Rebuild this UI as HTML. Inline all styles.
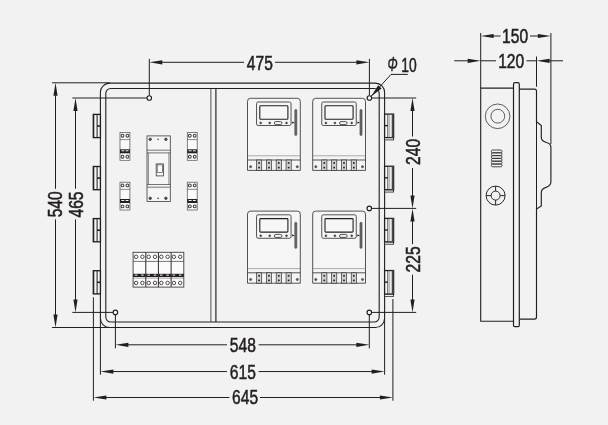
<!DOCTYPE html>
<html><head><meta charset="utf-8"><title>Dimension drawing</title>
<style>
html,body{margin:0;padding:0;background:#f2f2f2;}
svg{display:block;}
text{font-family:"Liberation Sans",sans-serif;fill:#231f20;stroke:#231f20;stroke-width:0.5px;vector-effect:non-scaling-stroke;}
</style></head><body>
<svg width="608" height="425" viewBox="0 0 608 425" style="will-change:transform">
<rect x="0" y="0" width="608" height="425" fill="#f2f2f2"/>
<rect x="100.40" y="83.10" width="284.20" height="244.40" rx="9.2" fill="#f2f2f2" stroke="#231f20" stroke-width="1.1"/>
<rect x="105.80" y="88.45" width="273.40" height="233.55" rx="5.0" fill="#f2f2f2" stroke="#231f20" stroke-width="1.1"/>
<line x1="210.9" y1="88.45" x2="210.9" y2="322.0" stroke="#231f20" stroke-width="0.75" />
<line x1="215.9" y1="88.45" x2="215.9" y2="322.0" stroke="#231f20" stroke-width="1.15" />
<rect x="93.30" y="114.40" width="7.10" height="23.20" rx="0" fill="#f7f7f7" stroke="#231f20" stroke-width="1.35"/>
<line x1="93.8" y1="114.4" x2="93.8" y2="137.6" stroke="#231f20" stroke-width="1.0" />
<line x1="97.1" y1="114.4" x2="97.1" y2="137.6" stroke="#231f20" stroke-width="1.05" />
<line x1="97.1" y1="126.0" x2="100.4" y2="126.0" stroke="#231f20" stroke-width="1.6" />
<rect x="384.60" y="137.60" width="9.00" height="2.30" rx="0" fill="#fbfbfb" stroke="#231f20" stroke-width="0.8"/>
<rect x="384.60" y="114.10" width="9.00" height="23.50" rx="0" fill="#fbfbfb" stroke="#231f20" stroke-width="1.3"/>
<rect x="391.7" y="114.10" width="1.9" height="23.5" fill="#4a4647"/>
<line x1="387.8" y1="114.1" x2="387.8" y2="137.6" stroke="#231f20" stroke-width="0.8" />
<line x1="389.7" y1="114.1" x2="389.7" y2="137.6" stroke="#777" stroke-width="0.6" />
<line x1="384.6" y1="125.64999999999999" x2="387.8" y2="125.64999999999999" stroke="#231f20" stroke-width="1.4" />
<rect x="93.30" y="166.50" width="7.10" height="23.20" rx="0" fill="#f7f7f7" stroke="#231f20" stroke-width="1.35"/>
<line x1="93.8" y1="166.5" x2="93.8" y2="189.7" stroke="#231f20" stroke-width="1.0" />
<line x1="97.1" y1="166.5" x2="97.1" y2="189.7" stroke="#231f20" stroke-width="1.05" />
<line x1="97.1" y1="178.1" x2="100.4" y2="178.1" stroke="#231f20" stroke-width="1.6" />
<rect x="384.60" y="189.75" width="9.00" height="2.30" rx="0" fill="#fbfbfb" stroke="#231f20" stroke-width="0.8"/>
<rect x="384.60" y="166.25" width="9.00" height="23.50" rx="0" fill="#fbfbfb" stroke="#231f20" stroke-width="1.3"/>
<rect x="391.7" y="166.25" width="1.9" height="23.5" fill="#4a4647"/>
<line x1="387.8" y1="166.25" x2="387.8" y2="189.75" stroke="#231f20" stroke-width="0.8" />
<line x1="389.7" y1="166.25" x2="389.7" y2="189.75" stroke="#777" stroke-width="0.6" />
<line x1="384.6" y1="177.8" x2="387.8" y2="177.8" stroke="#231f20" stroke-width="1.4" />
<rect x="93.30" y="218.60" width="7.10" height="23.20" rx="0" fill="#f7f7f7" stroke="#231f20" stroke-width="1.35"/>
<line x1="93.8" y1="218.60000000000002" x2="93.8" y2="241.8" stroke="#231f20" stroke-width="1.0" />
<line x1="97.1" y1="218.60000000000002" x2="97.1" y2="241.8" stroke="#231f20" stroke-width="1.05" />
<line x1="97.1" y1="230.20000000000002" x2="100.4" y2="230.20000000000002" stroke="#231f20" stroke-width="1.6" />
<rect x="384.60" y="241.90" width="9.00" height="2.30" rx="0" fill="#fbfbfb" stroke="#231f20" stroke-width="0.8"/>
<rect x="384.60" y="218.40" width="9.00" height="23.50" rx="0" fill="#fbfbfb" stroke="#231f20" stroke-width="1.3"/>
<rect x="391.7" y="218.40" width="1.9" height="23.5" fill="#4a4647"/>
<line x1="387.8" y1="218.39999999999998" x2="387.8" y2="241.89999999999998" stroke="#231f20" stroke-width="0.8" />
<line x1="389.7" y1="218.39999999999998" x2="389.7" y2="241.89999999999998" stroke="#777" stroke-width="0.6" />
<line x1="384.6" y1="229.95" x2="387.8" y2="229.95" stroke="#231f20" stroke-width="1.4" />
<rect x="93.30" y="270.70" width="7.10" height="23.20" rx="0" fill="#f7f7f7" stroke="#231f20" stroke-width="1.35"/>
<line x1="93.8" y1="270.70000000000005" x2="93.8" y2="293.90000000000003" stroke="#231f20" stroke-width="1.0" />
<line x1="97.1" y1="270.70000000000005" x2="97.1" y2="293.90000000000003" stroke="#231f20" stroke-width="1.05" />
<line x1="97.1" y1="282.30000000000007" x2="100.4" y2="282.30000000000007" stroke="#231f20" stroke-width="1.6" />
<rect x="384.60" y="294.05" width="9.00" height="2.30" rx="0" fill="#fbfbfb" stroke="#231f20" stroke-width="0.8"/>
<rect x="384.60" y="270.55" width="9.00" height="23.50" rx="0" fill="#fbfbfb" stroke="#231f20" stroke-width="1.3"/>
<rect x="391.7" y="270.55" width="1.9" height="23.5" fill="#4a4647"/>
<line x1="387.8" y1="270.54999999999995" x2="387.8" y2="294.04999999999995" stroke="#231f20" stroke-width="0.8" />
<line x1="389.7" y1="270.54999999999995" x2="389.7" y2="294.04999999999995" stroke="#777" stroke-width="0.6" />
<line x1="384.6" y1="282.09999999999997" x2="387.8" y2="282.09999999999997" stroke="#231f20" stroke-width="1.4" />
<line x1="149.3" y1="58.9" x2="149.3" y2="95.6" stroke="#231f20" stroke-width="1.0" />
<line x1="369.4" y1="58.9" x2="369.4" y2="95.6" stroke="#231f20" stroke-width="1.0" />
<polygon points="149.30,62.30 162.30,60.20 162.30,64.40" fill="#231f20"/>
<polygon points="369.40,62.30 356.40,60.20 356.40,64.40" fill="#231f20"/>
<line x1="161.8" y1="62.3" x2="244" y2="62.3" stroke="#231f20" stroke-width="1.0" />
<line x1="275" y1="62.3" x2="356.9" y2="62.3" stroke="#231f20" stroke-width="1.0" />
<text transform="translate(259.80,69.50) scale(0.758,1)" text-anchor="middle" font-size="20.6">475</text>
<circle cx="149.30" cy="98.00" r="2.25" fill="#fafafa" stroke="#231f20" stroke-width="1.15"/>
<circle cx="369.40" cy="98.00" r="2.25" fill="#fafafa" stroke="#231f20" stroke-width="1.15"/>
<circle cx="369.30" cy="208.40" r="2.25" fill="#fafafa" stroke="#231f20" stroke-width="1.15"/>
<circle cx="115.40" cy="312.40" r="2.25" fill="#fafafa" stroke="#231f20" stroke-width="1.15"/>
<circle cx="369.30" cy="312.40" r="2.25" fill="#fafafa" stroke="#231f20" stroke-width="1.15"/>
<line x1="52" y1="82.8" x2="110" y2="82.8" stroke="#231f20" stroke-width="1.0" />
<line x1="52" y1="327.5" x2="110" y2="327.5" stroke="#231f20" stroke-width="1.0" />
<polygon points="55.50,82.80 53.40,95.80 57.60,95.80" fill="#231f20"/>
<polygon points="55.50,327.50 53.40,314.50 57.60,314.50" fill="#231f20"/>
<line x1="55.5" y1="95.3" x2="55.5" y2="188.8" stroke="#231f20" stroke-width="1.0" />
<line x1="55.5" y1="219.4" x2="55.5" y2="315.0" stroke="#231f20" stroke-width="1.0" />
<text transform="translate(61.70,204.30) rotate(-90) scale(0.758,1)" text-anchor="middle" font-size="20.6">540</text>
<line x1="72.3" y1="98" x2="146.9" y2="98" stroke="#231f20" stroke-width="1.0" />
<line x1="72.3" y1="312.4" x2="113.0" y2="312.4" stroke="#231f20" stroke-width="1.0" />
<polygon points="75.50,98.00 73.40,111.00 77.60,111.00" fill="#231f20"/>
<polygon points="75.50,312.40 73.40,299.40 77.60,299.40" fill="#231f20"/>
<line x1="75.5" y1="110.5" x2="75.5" y2="188.8" stroke="#231f20" stroke-width="1.0" />
<line x1="75.5" y1="219.4" x2="75.5" y2="299.9" stroke="#231f20" stroke-width="1.0" />
<text transform="translate(82.90,204.50) rotate(-90) scale(0.758,1)" text-anchor="middle" font-size="20.6">465</text>
<line x1="371.8" y1="98" x2="416.2" y2="98" stroke="#231f20" stroke-width="1.0" />
<line x1="371.7" y1="208.4" x2="416.2" y2="208.4" stroke="#231f20" stroke-width="1.0" />
<line x1="371.7" y1="312.4" x2="416.2" y2="312.4" stroke="#231f20" stroke-width="1.0" />
<polygon points="412.50,98.00 410.40,111.00 414.60,111.00" fill="#231f20"/>
<polygon points="412.50,208.40 410.40,195.40 414.60,195.40" fill="#231f20"/>
<line x1="412.5" y1="110.5" x2="412.5" y2="136.5" stroke="#231f20" stroke-width="1.0" />
<line x1="412.5" y1="168" x2="412.5" y2="195.9" stroke="#231f20" stroke-width="1.0" />
<polygon points="412.50,208.40 410.40,221.40 414.60,221.40" fill="#231f20"/>
<polygon points="412.50,312.40 410.40,299.40 414.60,299.40" fill="#231f20"/>
<line x1="412.5" y1="220.9" x2="412.5" y2="244.2" stroke="#231f20" stroke-width="1.0" />
<line x1="412.5" y1="274.7" x2="412.5" y2="299.9" stroke="#231f20" stroke-width="1.0" />
<text transform="translate(420.30,151.90) rotate(-90) scale(0.758,1)" text-anchor="middle" font-size="20.6">240</text>
<text transform="translate(420.10,259.40) rotate(-90) scale(0.758,1)" text-anchor="middle" font-size="20.6">225</text>
<line x1="115.4" y1="314.8" x2="115.4" y2="348.4" stroke="#231f20" stroke-width="1.0" />
<line x1="369.3" y1="314.8" x2="369.3" y2="348.4" stroke="#231f20" stroke-width="1.0" />
<polygon points="115.40,344.80 128.40,342.70 128.40,346.90" fill="#231f20"/>
<polygon points="369.30,344.80 356.30,342.70 356.30,346.90" fill="#231f20"/>
<line x1="127.9" y1="344.8" x2="227" y2="344.8" stroke="#231f20" stroke-width="1.0" />
<line x1="258.6" y1="344.8" x2="356.8" y2="344.8" stroke="#231f20" stroke-width="1.0" />
<text transform="translate(242.80,351.80) scale(0.758,1)" text-anchor="middle" font-size="20.6">548</text>
<line x1="100.4" y1="318" x2="100.4" y2="374.7" stroke="#231f20" stroke-width="1.0" />
<line x1="384.6" y1="318" x2="384.6" y2="374.7" stroke="#231f20" stroke-width="1.0" />
<polygon points="100.40,371.55 113.40,369.45 113.40,373.65" fill="#231f20"/>
<polygon points="384.60,371.55 371.60,369.45 371.60,373.65" fill="#231f20"/>
<line x1="112.9" y1="371.55" x2="227" y2="371.55" stroke="#231f20" stroke-width="1.0" />
<line x1="258.6" y1="371.55" x2="372.1" y2="371.55" stroke="#231f20" stroke-width="1.0" />
<text transform="translate(242.80,378.90) scale(0.758,1)" text-anchor="middle" font-size="20.6">615</text>
<line x1="93.4" y1="297.3" x2="93.4" y2="400.7" stroke="#231f20" stroke-width="1.0" />
<line x1="392.9" y1="299.0" x2="392.9" y2="400.7" stroke="#231f20" stroke-width="1.0" />
<polygon points="93.40,397.50 106.40,395.40 106.40,399.60" fill="#231f20"/>
<polygon points="392.90,397.50 379.90,395.40 379.90,399.60" fill="#231f20"/>
<line x1="105.9" y1="397.5" x2="229.4" y2="397.5" stroke="#231f20" stroke-width="1.0" />
<line x1="260" y1="397.5" x2="380.4" y2="397.5" stroke="#231f20" stroke-width="1.0" />
<text transform="translate(245.10,404.40) scale(0.758,1)" text-anchor="middle" font-size="20.6">645</text>
<polyline points="371.2,96.2 391,74.4 407.8,74.4" fill="none" stroke="#231f20" stroke-width="1.0"/>
<polygon points="371.0,96.5 378.2,85.3 381.6,88.4" fill="#231f20"/>
<text transform="translate(387.5,72.3) scale(0.725,1)" text-anchor="start" font-size="20.6"><tspan font-style="italic" dy="-1.4" textLength="14.0" lengthAdjust="spacingAndGlyphs">Φ</tspan><tspan dy="1.4" dx="4.9" textLength="21.3" lengthAdjust="spacingAndGlyphs">10</tspan></text>
<rect x="120.00" y="132.50" width="9.90" height="27.80" rx="0" fill="#fbfbfb" stroke="#5a5657" stroke-width="0.75"/>
<line x1="120.0" y1="139.6" x2="129.9" y2="139.6" stroke="#5a5657" stroke-width="0.7" />
<rect x="120.00" y="149.30" width="9.9" height="4.0" fill="#231f20"/>
<rect x="121.40" y="150.30" width="2.9" height="1.0" fill="#f4f4f4"/>
<rect x="125.60" y="150.30" width="2.9" height="1.0" fill="#f4f4f4"/>
<circle cx="122.50" cy="135.70" r="1.4" fill="#fff" stroke="#3f3b3c" stroke-width="1.05"/>
<circle cx="122.50" cy="156.70" r="1.4" fill="#fff" stroke="#3f3b3c" stroke-width="1.05"/>
<circle cx="127.40" cy="135.70" r="1.4" fill="#fff" stroke="#3f3b3c" stroke-width="1.05"/>
<circle cx="127.40" cy="156.70" r="1.4" fill="#fff" stroke="#3f3b3c" stroke-width="1.05"/>
<rect x="187.30" y="132.50" width="9.90" height="27.80" rx="0" fill="#fbfbfb" stroke="#5a5657" stroke-width="0.75"/>
<line x1="187.3" y1="139.6" x2="197.20000000000002" y2="139.6" stroke="#5a5657" stroke-width="0.7" />
<rect x="187.30" y="149.30" width="9.9" height="4.0" fill="#231f20"/>
<rect x="188.70" y="150.30" width="2.9" height="1.0" fill="#f4f4f4"/>
<rect x="192.90" y="150.30" width="2.9" height="1.0" fill="#f4f4f4"/>
<circle cx="189.80" cy="135.70" r="1.4" fill="#fff" stroke="#3f3b3c" stroke-width="1.05"/>
<circle cx="189.80" cy="156.70" r="1.4" fill="#fff" stroke="#3f3b3c" stroke-width="1.05"/>
<circle cx="194.70" cy="135.70" r="1.4" fill="#fff" stroke="#3f3b3c" stroke-width="1.05"/>
<circle cx="194.70" cy="156.70" r="1.4" fill="#fff" stroke="#3f3b3c" stroke-width="1.05"/>
<rect x="120.00" y="182.20" width="9.90" height="27.80" rx="0" fill="#fbfbfb" stroke="#5a5657" stroke-width="0.75"/>
<line x1="120.0" y1="189.29999999999998" x2="129.9" y2="189.29999999999998" stroke="#5a5657" stroke-width="0.7" />
<rect x="120.00" y="199.00" width="9.9" height="4.0" fill="#231f20"/>
<rect x="121.40" y="200.00" width="2.9" height="1.0" fill="#f4f4f4"/>
<rect x="125.60" y="200.00" width="2.9" height="1.0" fill="#f4f4f4"/>
<circle cx="122.50" cy="185.40" r="1.4" fill="#fff" stroke="#3f3b3c" stroke-width="1.05"/>
<circle cx="122.50" cy="206.40" r="1.4" fill="#fff" stroke="#3f3b3c" stroke-width="1.05"/>
<circle cx="127.40" cy="185.40" r="1.4" fill="#fff" stroke="#3f3b3c" stroke-width="1.05"/>
<circle cx="127.40" cy="206.40" r="1.4" fill="#fff" stroke="#3f3b3c" stroke-width="1.05"/>
<rect x="187.30" y="182.20" width="9.90" height="27.80" rx="0" fill="#fbfbfb" stroke="#5a5657" stroke-width="0.75"/>
<line x1="187.3" y1="189.29999999999998" x2="197.20000000000002" y2="189.29999999999998" stroke="#5a5657" stroke-width="0.7" />
<rect x="187.30" y="199.00" width="9.9" height="4.0" fill="#231f20"/>
<rect x="188.70" y="200.00" width="2.9" height="1.0" fill="#f4f4f4"/>
<rect x="192.90" y="200.00" width="2.9" height="1.0" fill="#f4f4f4"/>
<circle cx="189.80" cy="185.40" r="1.4" fill="#fff" stroke="#3f3b3c" stroke-width="1.05"/>
<circle cx="189.80" cy="206.40" r="1.4" fill="#fff" stroke="#3f3b3c" stroke-width="1.05"/>
<circle cx="194.70" cy="185.40" r="1.4" fill="#fff" stroke="#3f3b3c" stroke-width="1.05"/>
<circle cx="194.70" cy="206.40" r="1.4" fill="#fff" stroke="#3f3b3c" stroke-width="1.05"/>
<rect x="147.00" y="135.90" width="23.30" height="65.70" rx="0" fill="#f5f5f5" stroke="#3f3b3c" stroke-width="0.8"/>
<line x1="147.0" y1="150.2" x2="170.3" y2="150.2" stroke="#3f3b3c" stroke-width="0.7" />
<line x1="147.0" y1="152.9" x2="170.3" y2="152.9" stroke="#3f3b3c" stroke-width="0.7" />
<line x1="147.0" y1="184.5" x2="170.3" y2="184.5" stroke="#3f3b3c" stroke-width="0.7" />
<line x1="147.0" y1="187.2" x2="170.3" y2="187.2" stroke="#3f3b3c" stroke-width="0.7" />
<line x1="148.4" y1="152.9" x2="148.4" y2="184.5" stroke="#3f3b3c" stroke-width="0.6" />
<line x1="168.9" y1="152.9" x2="168.9" y2="184.5" stroke="#3f3b3c" stroke-width="0.6" />
<circle cx="150.20" cy="139.30" r="1.25" fill="#555" stroke="#3f3b3c" stroke-width="0.8"/>
<circle cx="165.90" cy="139.30" r="1.25" fill="#555" stroke="#3f3b3c" stroke-width="0.8"/>
<circle cx="158.10" cy="139.30" r="0.6" fill="#888" stroke="#3f3b3c" stroke-width="0.5"/>
<circle cx="150.20" cy="198.30" r="1.25" fill="#555" stroke="#3f3b3c" stroke-width="0.8"/>
<circle cx="165.90" cy="198.30" r="1.25" fill="#555" stroke="#3f3b3c" stroke-width="0.8"/>
<circle cx="158.10" cy="198.30" r="0.6" fill="#888" stroke="#3f3b3c" stroke-width="0.5"/>
<rect x="156.20" y="163.90" width="7.40" height="12.00" rx="0" fill="#f5f5f5" stroke="#3f3b3c" stroke-width="0.8"/>
<rect x="157.20" y="164.90" width="5.40" height="7.40" rx="0" fill="#fbfbfb" stroke="#3f3b3c" stroke-width="0.65"/>
<rect x="133.10" y="252.30" width="50.70" height="34.80" rx="0" fill="#fbfbfb" stroke="#3f3b3c" stroke-width="0.9"/>
<line x1="133.1" y1="261.40000000000003" x2="183.8" y2="261.40000000000003" stroke="#3f3b3c" stroke-width="0.7" />
<rect x="133.1" y="273.80" width="50.7" height="3.2" fill="#231f20"/>
<line x1="133.1" y1="278.1" x2="183.8" y2="278.1" stroke="#666" stroke-width="0.6" />
<line x1="145.775" y1="252.3" x2="145.775" y2="287.1" stroke="#3f3b3c" stroke-width="1.1" />
<line x1="158.45" y1="252.3" x2="158.45" y2="287.1" stroke="#3f3b3c" stroke-width="1.1" />
<line x1="171.125" y1="252.3" x2="171.125" y2="287.1" stroke="#3f3b3c" stroke-width="1.1" />
<circle cx="136.10" cy="256.80" r="1.75" fill="none" stroke="#3f3b3c" stroke-width="0.9"/>
<circle cx="136.10" cy="282.95" r="1.75" fill="none" stroke="#3f3b3c" stroke-width="0.9"/>
<rect x="134.80" y="274.60" width="2.6" height="1.0" fill="#f4f4f4"/>
<circle cx="142.40" cy="256.80" r="1.75" fill="none" stroke="#3f3b3c" stroke-width="0.9"/>
<circle cx="142.40" cy="282.95" r="1.75" fill="none" stroke="#3f3b3c" stroke-width="0.9"/>
<rect x="141.10" y="274.60" width="2.6" height="1.0" fill="#f4f4f4"/>
<circle cx="148.70" cy="256.80" r="1.75" fill="none" stroke="#3f3b3c" stroke-width="0.9"/>
<circle cx="148.70" cy="282.95" r="1.75" fill="none" stroke="#3f3b3c" stroke-width="0.9"/>
<rect x="147.40" y="274.60" width="2.6" height="1.0" fill="#f4f4f4"/>
<circle cx="155.00" cy="256.80" r="1.75" fill="none" stroke="#3f3b3c" stroke-width="0.9"/>
<circle cx="155.00" cy="282.95" r="1.75" fill="none" stroke="#3f3b3c" stroke-width="0.9"/>
<rect x="153.70" y="274.60" width="2.6" height="1.0" fill="#f4f4f4"/>
<circle cx="161.30" cy="256.80" r="1.75" fill="none" stroke="#3f3b3c" stroke-width="0.9"/>
<circle cx="161.30" cy="282.95" r="1.75" fill="none" stroke="#3f3b3c" stroke-width="0.9"/>
<rect x="160.00" y="274.60" width="2.6" height="1.0" fill="#f4f4f4"/>
<circle cx="167.60" cy="256.80" r="1.75" fill="none" stroke="#3f3b3c" stroke-width="0.9"/>
<circle cx="167.60" cy="282.95" r="1.75" fill="none" stroke="#3f3b3c" stroke-width="0.9"/>
<rect x="166.30" y="274.60" width="2.6" height="1.0" fill="#f4f4f4"/>
<circle cx="173.90" cy="256.80" r="1.75" fill="none" stroke="#3f3b3c" stroke-width="0.9"/>
<circle cx="173.90" cy="282.95" r="1.75" fill="none" stroke="#3f3b3c" stroke-width="0.9"/>
<rect x="172.60" y="274.60" width="2.6" height="1.0" fill="#f4f4f4"/>
<circle cx="180.20" cy="256.80" r="1.75" fill="none" stroke="#3f3b3c" stroke-width="0.9"/>
<circle cx="180.20" cy="282.95" r="1.75" fill="none" stroke="#3f3b3c" stroke-width="0.9"/>
<rect x="178.90" y="274.60" width="2.6" height="1.0" fill="#f4f4f4"/>
<path d="M247.5,170.39999999999998 V101.3 Q247.5,98.3 250.5,98.3 H297.3 Q300.3,98.3 300.3,101.3 V170.39999999999998 Z" fill="#f5f5f5" stroke="#383435" stroke-width="0.85"/>
<rect x="256.55" y="102.00" width="34.50" height="23.50" rx="1.6" fill="#f5f5f5" stroke="#383435" stroke-width="0.85"/>
<rect x="259.80" y="105.80" width="28.10" height="13.50" rx="0.9" fill="#f6f6f6" stroke="#231f20" stroke-width="1.1"/>
<circle cx="260.70" cy="122.95" r="0.95" fill="#444" stroke="#383435" stroke-width="0.5"/>
<circle cx="269.70" cy="122.95" r="0.95" fill="#444" stroke="#383435" stroke-width="0.5"/>
<circle cx="286.50" cy="122.95" r="0.95" fill="#444" stroke="#383435" stroke-width="0.5"/>
<rect x="274.30" y="121.60" width="7.60" height="3.00" rx="1.5" fill="none" stroke="#383435" stroke-width="0.85"/>
<rect x="294.75" y="109.40" width="2.10" height="26.20" rx="1.05" fill="#6a6a6a" stroke="#383435" stroke-width="0.5"/>
<polygon points="292.20,121.50 294.70,122.60 292.20,123.70" fill="#231f20"/>
<line x1="247.5" y1="155.8" x2="300.3" y2="155.8" stroke="#777" stroke-width="0.6" />
<line x1="247.5" y1="160.0" x2="300.3" y2="160.0" stroke="#383435" stroke-width="0.85" />
<rect x="256.50" y="160.00" width="5.20" height="10.40" rx="0" fill="#cfcfcf" stroke="#383435" stroke-width="0.7"/>
<rect x="258.25" y="162.20" width="1.7" height="1.6" fill="#231f20"/>
<rect x="258.25" y="166.80" width="1.7" height="1.6" fill="#231f20"/>
<rect x="266.35" y="160.00" width="5.20" height="10.40" rx="0" fill="#cfcfcf" stroke="#383435" stroke-width="0.7"/>
<rect x="268.10" y="162.20" width="1.7" height="1.6" fill="#231f20"/>
<rect x="268.10" y="166.80" width="1.7" height="1.6" fill="#231f20"/>
<rect x="276.20" y="160.00" width="5.20" height="10.40" rx="0" fill="#cfcfcf" stroke="#383435" stroke-width="0.7"/>
<rect x="277.95" y="162.20" width="1.7" height="1.6" fill="#231f20"/>
<rect x="277.95" y="166.80" width="1.7" height="1.6" fill="#231f20"/>
<rect x="286.05" y="160.00" width="5.20" height="10.40" rx="0" fill="#cfcfcf" stroke="#383435" stroke-width="0.7"/>
<rect x="287.80" y="162.20" width="1.7" height="1.6" fill="#231f20"/>
<rect x="287.80" y="166.80" width="1.7" height="1.6" fill="#231f20"/>
<circle cx="250.60" cy="166.70" r="1.05" fill="#666" stroke="#383435" stroke-width="0.7"/>
<circle cx="297.30" cy="166.70" r="1.05" fill="#666" stroke="#383435" stroke-width="0.7"/>
<path d="M247.5,283.2 V214.1 Q247.5,211.1 250.5,211.1 H297.3 Q300.3,211.1 300.3,214.1 V283.2 Z" fill="#f5f5f5" stroke="#383435" stroke-width="0.85"/>
<rect x="256.55" y="214.80" width="34.50" height="23.50" rx="1.6" fill="#f5f5f5" stroke="#383435" stroke-width="0.85"/>
<rect x="259.80" y="218.60" width="28.10" height="13.50" rx="0.9" fill="#f6f6f6" stroke="#231f20" stroke-width="1.1"/>
<circle cx="260.70" cy="235.75" r="0.95" fill="#444" stroke="#383435" stroke-width="0.5"/>
<circle cx="269.70" cy="235.75" r="0.95" fill="#444" stroke="#383435" stroke-width="0.5"/>
<circle cx="286.50" cy="235.75" r="0.95" fill="#444" stroke="#383435" stroke-width="0.5"/>
<rect x="274.30" y="234.40" width="7.60" height="3.00" rx="1.5" fill="none" stroke="#383435" stroke-width="0.85"/>
<rect x="294.75" y="222.20" width="2.10" height="26.20" rx="1.05" fill="#6a6a6a" stroke="#383435" stroke-width="0.5"/>
<polygon points="292.20,234.30 294.70,235.40 292.20,236.50" fill="#231f20"/>
<line x1="247.5" y1="268.6" x2="300.3" y2="268.6" stroke="#777" stroke-width="0.6" />
<line x1="247.5" y1="272.8" x2="300.3" y2="272.8" stroke="#383435" stroke-width="0.85" />
<rect x="256.50" y="272.80" width="5.20" height="10.40" rx="0" fill="#cfcfcf" stroke="#383435" stroke-width="0.7"/>
<rect x="258.25" y="275.00" width="1.7" height="1.6" fill="#231f20"/>
<rect x="258.25" y="279.60" width="1.7" height="1.6" fill="#231f20"/>
<rect x="266.35" y="272.80" width="5.20" height="10.40" rx="0" fill="#cfcfcf" stroke="#383435" stroke-width="0.7"/>
<rect x="268.10" y="275.00" width="1.7" height="1.6" fill="#231f20"/>
<rect x="268.10" y="279.60" width="1.7" height="1.6" fill="#231f20"/>
<rect x="276.20" y="272.80" width="5.20" height="10.40" rx="0" fill="#cfcfcf" stroke="#383435" stroke-width="0.7"/>
<rect x="277.95" y="275.00" width="1.7" height="1.6" fill="#231f20"/>
<rect x="277.95" y="279.60" width="1.7" height="1.6" fill="#231f20"/>
<rect x="286.05" y="272.80" width="5.20" height="10.40" rx="0" fill="#cfcfcf" stroke="#383435" stroke-width="0.7"/>
<rect x="287.80" y="275.00" width="1.7" height="1.6" fill="#231f20"/>
<rect x="287.80" y="279.60" width="1.7" height="1.6" fill="#231f20"/>
<circle cx="250.60" cy="279.50" r="1.05" fill="#666" stroke="#383435" stroke-width="0.7"/>
<circle cx="297.30" cy="279.50" r="1.05" fill="#666" stroke="#383435" stroke-width="0.7"/>
<path d="M312.7,170.39999999999998 V101.3 Q312.7,98.3 315.7,98.3 H362.5 Q365.5,98.3 365.5,101.3 V170.39999999999998 Z" fill="#f5f5f5" stroke="#383435" stroke-width="0.85"/>
<rect x="321.75" y="102.00" width="34.50" height="23.50" rx="1.6" fill="#f5f5f5" stroke="#383435" stroke-width="0.85"/>
<rect x="325.00" y="105.80" width="28.10" height="13.50" rx="0.9" fill="#f6f6f6" stroke="#231f20" stroke-width="1.1"/>
<circle cx="325.90" cy="122.95" r="0.95" fill="#444" stroke="#383435" stroke-width="0.5"/>
<circle cx="334.90" cy="122.95" r="0.95" fill="#444" stroke="#383435" stroke-width="0.5"/>
<circle cx="351.70" cy="122.95" r="0.95" fill="#444" stroke="#383435" stroke-width="0.5"/>
<rect x="339.50" y="121.60" width="7.60" height="3.00" rx="1.5" fill="none" stroke="#383435" stroke-width="0.85"/>
<rect x="359.95" y="109.40" width="2.10" height="26.20" rx="1.05" fill="#6a6a6a" stroke="#383435" stroke-width="0.5"/>
<polygon points="357.40,121.50 359.90,122.60 357.40,123.70" fill="#231f20"/>
<line x1="312.7" y1="155.8" x2="365.5" y2="155.8" stroke="#777" stroke-width="0.6" />
<line x1="312.7" y1="160.0" x2="365.5" y2="160.0" stroke="#383435" stroke-width="0.85" />
<rect x="321.70" y="160.00" width="5.20" height="10.40" rx="0" fill="#cfcfcf" stroke="#383435" stroke-width="0.7"/>
<rect x="323.45" y="162.20" width="1.7" height="1.6" fill="#231f20"/>
<rect x="323.45" y="166.80" width="1.7" height="1.6" fill="#231f20"/>
<rect x="331.55" y="160.00" width="5.20" height="10.40" rx="0" fill="#cfcfcf" stroke="#383435" stroke-width="0.7"/>
<rect x="333.30" y="162.20" width="1.7" height="1.6" fill="#231f20"/>
<rect x="333.30" y="166.80" width="1.7" height="1.6" fill="#231f20"/>
<rect x="341.40" y="160.00" width="5.20" height="10.40" rx="0" fill="#cfcfcf" stroke="#383435" stroke-width="0.7"/>
<rect x="343.15" y="162.20" width="1.7" height="1.6" fill="#231f20"/>
<rect x="343.15" y="166.80" width="1.7" height="1.6" fill="#231f20"/>
<rect x="351.25" y="160.00" width="5.20" height="10.40" rx="0" fill="#cfcfcf" stroke="#383435" stroke-width="0.7"/>
<rect x="353.00" y="162.20" width="1.7" height="1.6" fill="#231f20"/>
<rect x="353.00" y="166.80" width="1.7" height="1.6" fill="#231f20"/>
<circle cx="315.80" cy="166.70" r="1.05" fill="#666" stroke="#383435" stroke-width="0.7"/>
<circle cx="362.50" cy="166.70" r="1.05" fill="#666" stroke="#383435" stroke-width="0.7"/>
<path d="M312.7,283.2 V214.1 Q312.7,211.1 315.7,211.1 H362.5 Q365.5,211.1 365.5,214.1 V283.2 Z" fill="#f5f5f5" stroke="#383435" stroke-width="0.85"/>
<rect x="321.75" y="214.80" width="34.50" height="23.50" rx="1.6" fill="#f5f5f5" stroke="#383435" stroke-width="0.85"/>
<rect x="325.00" y="218.60" width="28.10" height="13.50" rx="0.9" fill="#f6f6f6" stroke="#231f20" stroke-width="1.1"/>
<circle cx="325.90" cy="235.75" r="0.95" fill="#444" stroke="#383435" stroke-width="0.5"/>
<circle cx="334.90" cy="235.75" r="0.95" fill="#444" stroke="#383435" stroke-width="0.5"/>
<circle cx="351.70" cy="235.75" r="0.95" fill="#444" stroke="#383435" stroke-width="0.5"/>
<rect x="339.50" y="234.40" width="7.60" height="3.00" rx="1.5" fill="none" stroke="#383435" stroke-width="0.85"/>
<rect x="359.95" y="222.20" width="2.10" height="26.20" rx="1.05" fill="#6a6a6a" stroke="#383435" stroke-width="0.5"/>
<polygon points="357.40,234.30 359.90,235.40 357.40,236.50" fill="#231f20"/>
<line x1="312.7" y1="268.6" x2="365.5" y2="268.6" stroke="#777" stroke-width="0.6" />
<line x1="312.7" y1="272.8" x2="365.5" y2="272.8" stroke="#383435" stroke-width="0.85" />
<rect x="321.70" y="272.80" width="5.20" height="10.40" rx="0" fill="#cfcfcf" stroke="#383435" stroke-width="0.7"/>
<rect x="323.45" y="275.00" width="1.7" height="1.6" fill="#231f20"/>
<rect x="323.45" y="279.60" width="1.7" height="1.6" fill="#231f20"/>
<rect x="331.55" y="272.80" width="5.20" height="10.40" rx="0" fill="#cfcfcf" stroke="#383435" stroke-width="0.7"/>
<rect x="333.30" y="275.00" width="1.7" height="1.6" fill="#231f20"/>
<rect x="333.30" y="279.60" width="1.7" height="1.6" fill="#231f20"/>
<rect x="341.40" y="272.80" width="5.20" height="10.40" rx="0" fill="#cfcfcf" stroke="#383435" stroke-width="0.7"/>
<rect x="343.15" y="275.00" width="1.7" height="1.6" fill="#231f20"/>
<rect x="343.15" y="279.60" width="1.7" height="1.6" fill="#231f20"/>
<rect x="351.25" y="272.80" width="5.20" height="10.40" rx="0" fill="#cfcfcf" stroke="#383435" stroke-width="0.7"/>
<rect x="353.00" y="275.00" width="1.7" height="1.6" fill="#231f20"/>
<rect x="353.00" y="279.60" width="1.7" height="1.6" fill="#231f20"/>
<circle cx="315.80" cy="279.50" r="1.05" fill="#666" stroke="#383435" stroke-width="0.7"/>
<circle cx="362.50" cy="279.50" r="1.05" fill="#666" stroke="#383435" stroke-width="0.7"/>
<line x1="480.7" y1="33" x2="480.7" y2="88" stroke="#231f20" stroke-width="1.0" />
<line x1="550.9" y1="33" x2="550.9" y2="144" stroke="#231f20" stroke-width="1.0" />
<polygon points="480.70,36.00 493.70,33.90 493.70,38.10" fill="#231f20"/>
<polygon points="550.90,36.00 537.90,33.90 537.90,38.10" fill="#231f20"/>
<line x1="493.2" y1="36" x2="500.6" y2="36" stroke="#231f20" stroke-width="1.0" />
<line x1="530" y1="36" x2="538.4" y2="36" stroke="#231f20" stroke-width="1.0" />
<text transform="translate(515.10,43.10) scale(0.758,1)" text-anchor="middle" font-size="20.6">150</text>
<line x1="454.2" y1="60.8" x2="468.2" y2="60.8" stroke="#231f20" stroke-width="1.0" />
<line x1="480.7" y1="60.8" x2="496" y2="60.8" stroke="#231f20" stroke-width="1.0" />
<line x1="526.5" y1="60.8" x2="536.6" y2="60.8" stroke="#231f20" stroke-width="1.0" />
<line x1="549.1" y1="60.8" x2="563" y2="60.8" stroke="#231f20" stroke-width="1.0" />
<polygon points="480.70,60.80 467.70,58.70 467.70,62.90" fill="#231f20"/>
<polygon points="536.60,60.80 549.60,58.70 549.60,62.90" fill="#231f20"/>
<line x1="536.5" y1="56.5" x2="536.5" y2="86.7" stroke="#231f20" stroke-width="1.0" />
<text transform="translate(511.20,67.60) scale(0.758,1)" text-anchor="middle" font-size="20.6">120</text>
<path d="M513.5,88.1 H480.7 V321.2 H513.5" fill="none" stroke="#231f20" stroke-width="1.1"/>
<path d="M519.3,89.1 H534.5 Q536.5,89.1 536.5,91.1 V121.7 L541.3,125.5 V137.2 Q541.3,141 546,142.3 Q550.9,143.7 550.9,147 V182 Q550.9,185.6 546,187.4 Q541.3,189 541.3,192.5 V205.9 L536.5,209 V317.1 Q536.5,319.1 534.5,319.1 H519.3" fill="none" stroke="#231f20" stroke-width="1.15"/>
<line x1="536.5" y1="121.7" x2="536.5" y2="209" stroke="#231f20" stroke-width="1.0" />
<path d="M513.5,325.4 V84.2 Q513.5,82.7 515,82.7 H517.8 Q519.3,82.7 519.3,84.2 V325.4 Q519.3,326.6 518.1,326.6 H514.7 Q513.5,326.6 513.5,325.4 Z" fill="#f2f2f2" stroke="#231f20" stroke-width="1.2"/>
<circle cx="497.60" cy="116.30" r="12.3" fill="none" stroke="#3a3637" stroke-width="0.8"/>
<circle cx="497.80" cy="116.20" r="6.9" fill="none" stroke="#3a3637" stroke-width="0.8"/>
<rect x="491.40" y="150.00" width="10.60" height="2.80" rx="1.3" fill="none" stroke="#2f2b2c" stroke-width="0.85"/>
<rect x="491.40" y="152.80" width="10.60" height="2.80" rx="1.3" fill="none" stroke="#2f2b2c" stroke-width="0.85"/>
<rect x="491.40" y="155.60" width="10.60" height="2.80" rx="1.3" fill="none" stroke="#2f2b2c" stroke-width="0.85"/>
<rect x="491.40" y="158.40" width="10.60" height="2.80" rx="1.3" fill="none" stroke="#2f2b2c" stroke-width="0.85"/>
<rect x="491.40" y="161.20" width="10.60" height="2.80" rx="1.3" fill="none" stroke="#2f2b2c" stroke-width="0.85"/>
<rect x="491.40" y="164.00" width="10.60" height="2.80" rx="1.3" fill="none" stroke="#2f2b2c" stroke-width="0.85"/>
<circle cx="495.60" cy="195.60" r="9.5" fill="none" stroke="#231f20" stroke-width="0.95"/>
<circle cx="495.60" cy="195.60" r="4.5" fill="none" stroke="#231f20" stroke-width="0.95"/>
<line x1="495.6" y1="186.1" x2="495.6" y2="191.1" stroke="#231f20" stroke-width="0.95" />
<line x1="495.6" y1="200.1" x2="495.6" y2="205.1" stroke="#231f20" stroke-width="0.95" />
<line x1="486.1" y1="195.6" x2="491.1" y2="195.6" stroke="#231f20" stroke-width="0.95" />
<line x1="500.1" y1="195.6" x2="505.1" y2="195.6" stroke="#231f20" stroke-width="0.95" />
</svg>
</body></html>
